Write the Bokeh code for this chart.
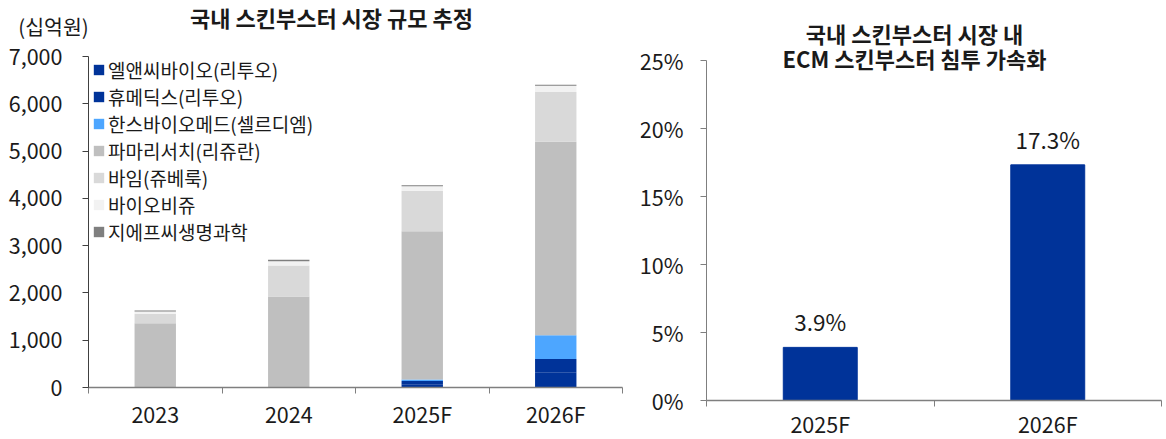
from bokeh.plotting import figure
from bokeh.layouts import row
from bokeh.models import (ColumnDataSource, Range1d, FixedTicker, NumeralTickFormatter,
                          Label, Legend, LegendItem)
from bokeh.embed import file_html
from bokeh.resources import INLINE
from bokeh.core.properties import value

FONT = "Noto Sans CJK KR"

# ---------------- data ----------------
years = ["2023", "2024", "2025F", "2026F"]
series_names = ["엘앤씨바이오(리투오)", "휴메딕스(리투오)", "한스바이오메드(셀르디엠)",
                "파마리서치(리쥬란)", "바임(쥬베룩)", "바이오비쥬", "지에프씨생명과학"]
lnc = [0, 0, 70, 310]
humedix = [0, 0, 67, 295]
hans = [0, 0, 30, 500]
pharma = [1361, 1926, 3139, 4092]
vaim = [199, 656, 853, 1052]
biobiju = [49, 90, 99, 133]
gfc = [21, 30, 21, 21]
series_colors = ["#003399", "#003399", "#4DA6FF", "#BFBFBF", "#D9D9D9", "#F2F2F2", "#7F7F7F"]
y_ticks = [0, 1000, 2000, 3000, 4000, 5000, 6000, 7000]
y_max = 7000

ecm_years = ["2025F", "2026F"]
ecm_share = [3.9, 17.3]
pct_ticks = [0, 0.05, 0.10, 0.15, 0.20, 0.25]
pct_max = 0.25

TXT = "#1a1a1a"
AX = "#7f7f7f"
TICK_FS = "21.5px"
H = 439


def span(v0, v1, p0, p1, total):
    """range so that value v0 sits at pixel p0 and v1 at p1 within a frame of `total` px"""
    k = (v1 - v0) / (p1 - p0)
    return Range1d(v0 - p0 * k, v1 + (total - p1) * k)


def style_axes(p, xa, ya, xlabels, ylabels_fmt, y_line, y_standoff, x_standoff):
    n = len(xlabels)
    xa.ticker = FixedTicker(ticks=[i + 0.5 for i in range(n)], minor_ticks=list(range(n + 1)))
    xa.major_label_overrides = {i + 0.5: s for i, s in enumerate(xlabels)}
    xa.major_tick_line_color = None
    xa.major_tick_out = 0
    xa.minor_tick_in = 0
    xa.minor_tick_out = 6
    xa.minor_tick_line_color = AX
    xa.axis_line_color = AX
    xa.axis_line_width = 1.5
    xa.major_label_standoff = x_standoff
    xa.fixed_location = 0
    xa.bounds = (0, n)
    ya.formatter = ylabels_fmt
    ya.minor_tick_line_color = None
    ya.major_tick_in = 0
    ya.major_tick_out = 6
    ya.major_tick_line_color = y_line
    ya.axis_line_color = y_line
    ya.major_label_standoff = y_standoff
    ya.fixed_location = 0
    for a in (xa, ya):
        a.major_label_text_font = FONT
        a.major_label_text_font_size = TICK_FS
        a.major_label_text_color = TXT
    p.outline_line_color = None
    p.xgrid.visible = False
    p.ygrid.visible = False


# ---------------- left chart ----------------
W1 = 640
p1 = figure(width=W1, height=H,
            x_range=span(0, len(years), 88, 622, W1),
            y_range=span(0, y_max, H - 387, H - 56, H),
            output_backend="svg", toolbar_location=None,
            min_border_left=0, min_border_right=0, min_border_top=0, min_border_bottom=0)

keys = ["lnc", "humedix", "hans", "pharma", "vaim", "biobiju", "gfc"]
src = ColumnDataSource(dict(x=[i + 0.5 for i in range(len(years))], lnc=lnc, humedix=humedix,
                            hans=hans, pharma=pharma, vaim=vaim, biobiju=biobiju, gfc=gfc))
rs = p1.vbar_stack(keys, x="x", width=0.31, color=series_colors, source=src, line_color=None)

style_axes(p1, p1.xaxis[0], p1.yaxis[0], years, NumeralTickFormatter(format="0,0"),
           "#404040", 20, 4)
p1.yaxis[0].ticker = FixedTicker(ticks=y_ticks)
p1.yaxis[0].bounds = (0, y_max)

legend = Legend(items=[LegendItem(label=n, renderers=[r]) for n, r in zip(series_names, rs)],
                location=(92, 194), padding=0, margin=0, spacing=-1,
                glyph_width=13, glyph_height=13, label_height=20, label_standoff=3,
                label_text_font=FONT, label_text_font_size="19px", label_text_color=TXT,
                border_line_color=None, background_fill_alpha=0)
p1.add_layout(legend)

p1.add_layout(Label(x=331, y=H - 16, x_units="screen", y_units="screen",
                    text="국내 스킨부스터 시장 규모 추정", text_align="center",
                    text_baseline="middle", text_font=FONT, text_font_size="22px",
                    text_font_style="bold", text_color=TXT))
p1.add_layout(Label(x=53, y=H - 25, x_units="screen", y_units="screen",
                    text="(십억원)", text_align="center", text_baseline="middle",
                    text_font=FONT, text_font_size="20.5px", text_color=TXT))

# ---------------- right chart ----------------
W2 = 526
p2 = figure(width=W2, height=H,
            x_range=span(0, len(ecm_years), 66, 521, W2),
            y_range=span(0, pct_max, H - 400, H - 59.5, H),
            output_backend="svg", toolbar_location=None,
            min_border_left=0, min_border_right=0, min_border_top=0, min_border_bottom=0)

src2 = ColumnDataSource(dict(x=[i + 0.5 for i in range(len(ecm_years))],
                             top=[v / 100 for v in ecm_share],
                             label=[f"{v:.1f}%" for v in ecm_share]))
p2.vbar(x="x", top="top", width=0.325, color="#003399", source=src2)
p2.text(x="x", y="top", text="label", source=src2, text_align="center", text_baseline="middle",
        y_offset=-26, text_font=value(FONT), text_font_size="22.5px", text_color=TXT)

style_axes(p2, p2.xaxis[0], p2.yaxis[0], ecm_years, NumeralTickFormatter(format="0%"),
           AX, 17, 1)
p2.yaxis[0].ticker = FixedTicker(ticks=pct_ticks)
p2.yaxis[0].bounds = (0, pct_max)

p2.add_layout(Label(x=274, y=H - 32, x_units="screen", y_units="screen",
                    text="국내 스킨부스터 시장 내", text_align="center", text_baseline="middle",
                    text_font=FONT, text_font_size="22px", text_font_style="bold", text_color=TXT))
p2.add_layout(Label(x=274, y=H - 57, x_units="screen", y_units="screen",
                    text="ECM 스킨부스터 침투 가속화", text_align="center", text_baseline="middle",
                    text_font=FONT, text_font_size="22px", text_font_style="bold", text_color=TXT))

layout = row(p1, p2)
open("out.html", "w").write(file_html(layout, INLINE))
